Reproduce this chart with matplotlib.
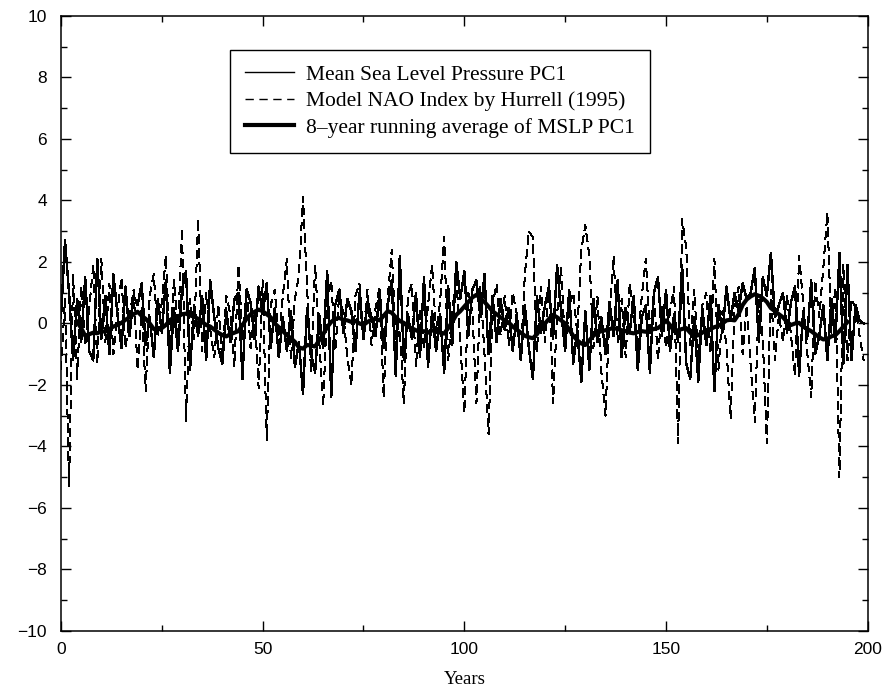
'''Plot of MSLP PC1, model NAO index and 8-year running average'''
import numpy as np
import matplotlib
matplotlib.use('Agg')
import matplotlib.pyplot as plt
from matplotlib.ticker import MultipleLocator

# Mean Sea Level Pressure PC1, years 0..199
mslp_pc1 = [
    0.2, 2.7, 1.0, -1.2, 0.8, -0.6, 1.5, -0.9, -1.2, 2.1,
    -0.5, 0.9, -1.0, 1.6, 0.3, -0.8, 1.2, -0.4, 0.9, 0.6,
    1.3, -0.7, 0.2, -1.1, 0.8, -0.3, 1.4, -1.6, 0.5, -0.9,
    1.1, 1.7, -1.5, 0.6, -0.4, 0.9, -1.2, 1.4, 0.2, -0.8,
    -1.3, 0.4, -0.6, 0.8, 1.0, -1.8, 1.1, 0.7, -0.5, 1.2,
    0.3, 1.3, -0.8, 0.5, -1.1, 0.2, -0.9, 0.4, -1.4, -0.6,
    -2.3, 0.5, -1.0, -1.6, 0.3, -0.8, 1.7, -2.4, 0.6, 1.1,
    -0.3, 0.8, 0.4, -0.9, 1.0, -0.5, 0.7, 0.2, -0.4, 1.1,
    -0.8, 0.6, 1.4, -1.7, 2.2, -1.2, 0.3, -0.5, 1.0, -1.1,
    1.5, -1.4, 0.4, -0.9, 0.3, -1.6, 1.2, -0.7, 2.0, 0.8,
    1.7, -0.4, 1.1, 1.4, 0.2, 1.6, -1.0, 0.9, -0.6, 0.8,
    -0.2, 0.5, -0.9, 0.3, -1.2, 0.6, -0.8, -1.8, 0.9, -0.3,
    0.6, 1.2, -0.5, 1.9, 0.4, -0.9, 1.1, -1.3, -0.2, -1.9,
    0.4, -1.5, 0.8, -0.6, 0.2, -1.0, 0.7, -0.4, 1.4, -1.1,
    0.5, -0.3, 0.9, -1.5, 0.2, 0.6, -1.6, 1.0, 1.5, -0.4,
    1.1, -0.9, 0.3, -0.6, 1.9, -1.3, -1.8, 0.2, -1.9, 0.5,
    -0.7, 0.9, -2.2, 0.6, -0.3, 1.2, 0.1, 1.0, 0.4, 1.3,
    0.8, 1.0, 1.8, -0.6, 1.5, 0.9, 2.3, 0.2, 0.6, 1.0,
    -0.3, 0.7, 1.2, -1.7, 0.4, -0.5, 1.4, -1.0, -0.4, 0.6,
    -1.2, 0.8, -0.6, 2.3, -1.3, 1.9, -1.2, 0.6, 0.1, 0.0,
]

# Model NAO index by Hurrell (1995), years 0..199
nao_index = [
    -1.5, 0.8, -5.3, 1.6, -1.8, 1.2, -0.7, 0.5, 1.9, -1.3,
    2.1, -0.6, 1.3, -1.0, 0.4, 1.5, -0.8, 0.2, 1.1, -1.5,
    0.5, -2.2, 0.9, 1.6, -0.4, 0.7, 2.2, -0.9, 1.4, -0.3,
    3.1, -3.2, 0.8, -0.5, 3.4, -0.9, 1.0, -0.2, -1.1, 0.6,
    -1.2, 0.9, 0.3, -1.4, 1.9, -0.5, 1.2, -0.8, 0.4, -2.1,
    1.4, -3.8, 0.6, 1.1, -0.7, 0.9, 2.1, -1.2, 0.8, 1.6,
    4.1, 1.2, -1.6, 1.9, -0.5, -2.7, 0.7, 1.4, -0.9, 1.0,
    0.3, -1.1, -2.0, 0.9, 1.3, -0.3, 1.1, -0.7, 0.5, 1.2,
    -2.4, 0.8, 2.4, -0.6, -0.2, -2.6, 0.9, 1.3, -1.4, 0.5,
    -0.8, 0.6, 1.9, -0.3, 0.7, 2.8, -1.2, 0.4, 1.5, -0.6,
    -2.9, 1.0, 0.4, -2.6, 1.2, -1.0, -3.6, 0.6, 1.3, -0.4,
    0.9, -0.7, 1.0, 0.3, -1.2, 1.6, 3.0, 2.8, -0.9, 1.2,
    -0.6, 1.4, -2.6, 0.3, 1.8, -0.8, 0.6, 1.0, -0.3, 2.4,
    3.2, 2.2, -0.8, 0.9, -1.6, -3.0, 0.4, 2.2, -0.6, 0.8,
    -1.1, 1.3, 0.2, -0.7, 0.9, 2.1, -0.4, 1.0, -1.2, 0.6,
    -0.8, 0.4, 1.2, -3.9, 3.4, 2.5, -0.7, 1.1, -1.2, 0.6,
    1.0, -0.9, 2.1, -1.5, 0.4, -0.8, -3.1, 0.5, 1.2, -1.0,
    0.6, -1.4, -3.2, 0.8, -0.5, -3.9, 1.1, -1.2, 0.3, -0.6,
    0.9, -0.4, -1.7, 2.2, 0.7, -0.9, -2.4, 1.4, 0.2, 1.8,
    3.6, -0.3, 1.2, -5.0, 1.9, -1.2, 0.8, 0.5, -0.4, -1.2,
]

# 8-year running average of MSLP PC1, years 4..195
running_avg = [
    0.05, -0.15, -0.40, -0.35, -0.30, -0.32,
    -0.25, -0.27, -0.18, -0.10, -0.05, 0.02, 0.12, 0.20, 0.30, 0.38,
    0.25, 0.15, 0.00, -0.18, -0.20, -0.15, -0.05, 0.10, 0.20, 0.22,
    0.30, 0.32, 0.26, 0.22, 0.15, 0.05, -0.05, -0.10, -0.20, -0.30,
    -0.38, -0.42, -0.35, -0.30, -0.25, -0.05, 0.15, 0.30, 0.38, 0.45,
    0.40, 0.30, 0.20, 0.00, -0.12, -0.25, -0.38, -0.48, -0.60, -0.78,
    -0.82, -0.70, -0.72, -0.75, -0.55, -0.35, -0.12, 0.05, 0.15, 0.18,
    0.12, 0.10, 0.05, 0.08, 0.00, -0.05, 0.05, 0.12, 0.15, 0.10,
    0.25, 0.40, 0.35, 0.20, 0.08, 0.02, -0.10, -0.16, -0.22, -0.28,
    -0.25, -0.30, -0.22, -0.27, -0.30, -0.33, -0.15, 0.05, 0.28, 0.40,
    0.55, 0.70, 0.85, 0.93, 0.82, 0.70, 0.55, 0.40, 0.30, 0.20,
    0.10, 0.03, -0.10, -0.20, -0.30, -0.40, -0.45, -0.48, -0.35, -0.15,
    0.00, 0.15, 0.28, 0.20, 0.10, 0.00, -0.20, -0.40, -0.55, -0.65,
    -0.70, -0.55, -0.40, -0.30, -0.25, -0.22, -0.18, -0.15, -0.18, -0.22,
    -0.25, -0.30, -0.32, -0.28, -0.25, -0.27, -0.22, -0.18, -0.15, -0.05,
    0.10, -0.05, -0.25, -0.22, -0.18, -0.15, -0.30, -0.42, -0.38, -0.30,
    -0.22, -0.18, -0.12, -0.08, 0.00, 0.10, 0.12, 0.10, 0.30, 0.60,
    0.78, 0.88, 0.95, 0.90, 0.82, 0.70, 0.50, 0.40, 0.30, 0.20,
    0.05, -0.05, 0.00, 0.02, -0.10, -0.18, -0.25, -0.35, -0.45, -0.52,
    -0.50, -0.42, -0.38, -0.25, -0.10, 0.05,
]

years = np.arange(len(mslp_pc1))
avg_years = np.arange(4, 4 + len(running_avg))

labels = ['Mean Sea Level Pressure PC1',
          'Model NAO Index by Hurrell (1995)',
          '8\u2013year running average of MSLP PC1']

serif = 'Liberation Serif'

fig = plt.figure(figsize=(8.89, 6.93), dpi=100)
ax = fig.add_axes([0.0686, 0.0895, 0.9074, 0.8875])

ax.plot(years, mslp_pc1, color='black', lw=1.0, label=labels[0],
        antialiased=False)
l2, = ax.plot(years, nao_index, color='black', lw=1.0, label=labels[1],
              antialiased=False)
l2.set_dashes((6, 4))
ax.plot(avg_years, running_avg, color='black', lw=3.0, label=labels[2])

ax.set_xlim(0, 200)
ax.set_ylim(-10, 10)
ax.xaxis.set_major_locator(MultipleLocator(50))
ax.xaxis.set_minor_locator(MultipleLocator(25))
ax.yaxis.set_major_locator(MultipleLocator(2))
ax.yaxis.set_minor_locator(MultipleLocator(1))
ax.tick_params(which='both', direction='in', top=True, right=True,
               width=1, labelsize=12.5)
ax.tick_params(which='major', length=7)
ax.tick_params(which='minor', length=4)
ax.tick_params(axis='y', pad=10)
ax.tick_params(axis='x', pad=8)
for s in ax.spines.values():
    s.set_linewidth(1.1)
for t in ax.get_xticklabels() + ax.get_yticklabels():
    t.set_family('Liberation Sans')

ax.set_xlabel('Years', family=serif, fontsize=13.5, labelpad=10)

leg = ax.legend(loc='upper left', bbox_to_anchor=(0.209, 0.945),
                borderaxespad=0, fancybox=False, edgecolor='black',
                framealpha=1, prop={'family': serif, 'size': 15.5},
                handlelength=2.3, handletextpad=0.55, labelspacing=0.3,
                borderpad=0.7)
leg.get_frame().set_linewidth(1.0)

fig.savefig('out.png', dpi=100)
